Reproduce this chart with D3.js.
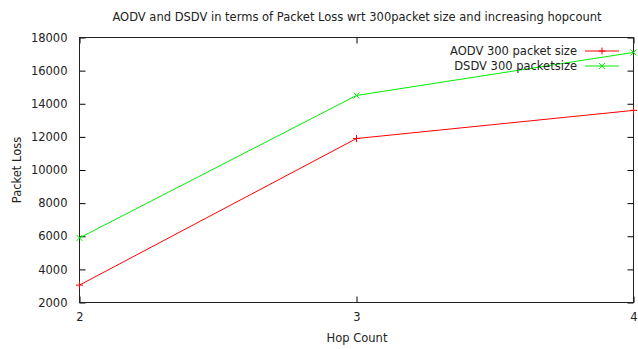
<!DOCTYPE html>
<html>
<head>
<meta charset="utf-8">
<script src="https://cdn.jsdelivr.net/npm/d3@7/dist/d3.min.js"></script>
<style>
  body { margin: 0; background: #fff; }
  svg text { font-family: "DejaVu Sans", sans-serif; fill: #222; }
</style>
</head>
<body>
<svg id="chart" width="638" height="349"></svg>
<script>
// data
const hopCounts = [2, 3, 4];
const aodvLoss = [3050, 11900, 13600];
const dsdvLoss = [5900, 14500, 17100];
const yTicks = [2000, 4000, 6000, 8000, 10000, 12000, 14000, 16000, 18000];
const seriesNames = ["AODV 300 packet size", "DSDV 300 packetsize"];

const svg = d3.select("#chart");
const margin = { left: 79.5, right: 633.5, top: 37.5, bottom: 302.5 };
const fs = "11.5px";

const x = d3.scaleLinear().domain([2, 4]).range([margin.left, margin.right]);
const y = d3.scaleLinear().domain([2000, 18000]).range([margin.bottom, margin.top]);

// title
svg.append("text")
  .attr("x", 357).attr("y", 21)
  .attr("text-anchor", "middle")
  .style("font-size", fs)
  .text("AODV and DSDV in terms of Packet Loss wrt 300packet size and increasing hopcount");

// axes with inward ticks (gnuplot look)
const tickLen = 6;
svg.append("g")
  .attr("transform", `translate(0,${margin.bottom})`)
  .call(d3.axisBottom(x).tickValues(hopCounts).tickFormat(d3.format("d")).tickSize(-tickLen).tickPadding(tickLen + 4))
  .call(g => g.select(".domain").remove())
  .call(g => g.selectAll("text").style("font-size", fs));
svg.append("g")
  .attr("transform", `translate(0,${margin.top})`)
  .call(d3.axisTop(x).tickValues(hopCounts).tickFormat("").tickSize(-tickLen))
  .call(g => g.select(".domain").remove());
svg.append("g")
  .attr("transform", `translate(${margin.left},0)`)
  .call(d3.axisLeft(y).tickValues(yTicks).tickFormat(d3.format("d")).tickSize(-tickLen).tickPadding(tickLen + 6))
  .call(g => g.select(".domain").remove())
  .call(g => g.selectAll("text").style("font-size", fs));
svg.append("g")
  .attr("transform", `translate(${margin.right},0)`)
  .call(d3.axisRight(y).tickValues(yTicks).tickFormat("").tickSize(-tickLen))
  .call(g => g.select(".domain").remove());

svg.append("rect")
  .attr("x", margin.left).attr("y", margin.top)
  .attr("width", margin.right - margin.left).attr("height", margin.bottom - margin.top)
  .attr("fill", "none").attr("stroke", "#222").attr("stroke-width", 1);

// axis labels
svg.append("text")
  .attr("x", 357).attr("y", 342)
  .attr("text-anchor", "middle")
  .style("font-size", fs)
  .text("Hop Count");
svg.append("text")
  .attr("transform", "translate(21,170) rotate(-90)")
  .attr("text-anchor", "middle")
  .style("font-size", fs)
  .text("Packet Loss");

const line = d3.line().x(d => x(d[0])).y(d => y(d[1]));
const series = [
  { name: seriesNames[0], values: aodvLoss, color: "#ff0000", mark: "plus" },
  { name: seriesNames[1], values: dsdvLoss, color: "#00ee00", mark: "cross" }
];

function drawMark(g, cx, cy, mark, color) {
  const segs = mark === "plus"
    ? [[cx - 3.5, cy, cx + 3.5, cy], [cx, cy - 3.5, cx, cy + 3.5]]
    : [[cx - 3, cy - 3, cx + 3, cy + 3], [cx - 3, cy + 3, cx + 3, cy - 3]];
  segs.forEach(p => g.append("line")
    .attr("x1", p[0]).attr("y1", p[1]).attr("x2", p[2]).attr("y2", p[3])
    .attr("stroke", color).attr("stroke-width", 1));
}

const plot = svg.append("g");
series.forEach((s, i) => {
  const pts = hopCounts.map((h, j) => [h, s.values[j]]);
  plot.append("path")
    .datum(pts)
    .attr("d", line)
    .attr("fill", "none")
    .attr("stroke", s.color)
    .attr("stroke-width", 1);
  pts.forEach(p => drawMark(plot, x(p[0]), y(p[1]), s.mark, s.color));

  // legend
  const ly = 51 + i * 15;
  svg.append("text")
    .attr("x", 577).attr("y", ly + 4)
    .attr("text-anchor", "end")
    .style("font-size", fs)
    .text(s.name);
  svg.append("line")
    .attr("x1", 585).attr("x2", 619).attr("y1", ly).attr("y2", ly)
    .attr("stroke", s.color).attr("stroke-width", 1);
  drawMark(svg, 602, ly, s.mark, s.color);
});
</script>
</body>
</html>
